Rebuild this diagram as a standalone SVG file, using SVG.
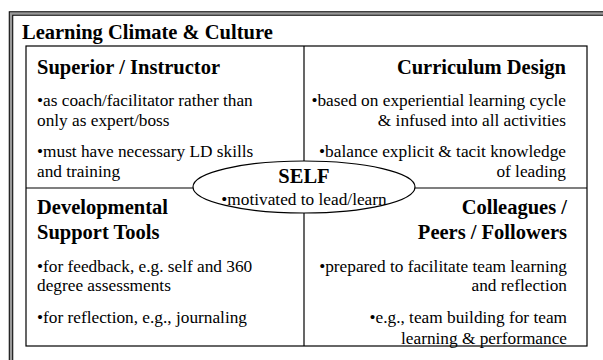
<svg xmlns="http://www.w3.org/2000/svg" width="603" height="360" viewBox="0 0 603 360" font-family="'Liberation Serif', 'Times New Roman', serif">
<style>
.h{font-size:20.5px;font-weight:bold}
.b{font-size:17.3px}
.r{text-anchor:end}
.c{text-anchor:middle}
.box{fill:none;stroke:#000;stroke-width:1.2}
</style>
<rect width="603" height="360" fill="#fff"/>
<g id="frame">
<rect x="11" y="13.5" width="700" height="500" fill="none" stroke="#000" stroke-width="4.5"/>
<rect x="11" y="13.5" width="700" height="500" fill="none" stroke="#9a9a9a" stroke-width="2.5"/>
<text class="h" x="22" y="39" font-family="'Liberation Serif', serif">Learning Climate &amp; Culture</text>
</g>
<g id="connectors">
<rect class="box" x="26" y="46" width="561" height="300"/>
<line class="box" x1="304" y1="46" x2="304" y2="346"/>
<line class="box" x1="26" y1="188" x2="587" y2="188"/>
</g>
<g id="superior" font-family="'Liberation Serif', serif">
<text class="h" x="37" y="74">Superior / Instructor</text>
<text class="b" x="37" y="106">•as coach/facilitator rather than</text>
<text class="b" x="37" y="126">only as expert/boss</text>
<text class="b" x="37" y="157">•must have necessary LD skills</text>
<text class="b" x="37" y="177">and training</text>
</g>
<g id="curriculum" font-family="'Liberation Serif', serif">
<text class="h r" x="566" y="74">Curriculum Design</text>
<text class="b r" x="566" y="106">•based on experiential learning cycle</text>
<text class="b r" x="566" y="126">&amp; infused into all activities</text>
<text class="b r" x="566" y="157">•balance explicit &amp; tacit knowledge</text>
<text class="b r" x="566" y="177">of leading</text>
</g>
<g id="tools" font-family="'Liberation Serif', serif">
<text class="h" x="37" y="214">Developmental</text>
<text class="h" x="37" y="239">Support Tools</text>
<text class="b" x="37" y="272">•for feedback, e.g. self and 360</text>
<text class="b" x="37" y="291">degree assessments</text>
<text class="b" x="37" y="323">•for reflection, e.g., journaling</text>
</g>
<g id="colleagues" font-family="'Liberation Serif', serif">
<text class="h r" x="567" y="214">Colleagues /</text>
<text class="h r" x="567" y="239">Peers / Followers</text>
<text class="b r" x="567" y="272">•prepared to facilitate team learning</text>
<text class="b r" x="567" y="291">and reflection</text>
<text class="b r" x="567" y="323">•e.g., team building for team</text>
<text class="b r" x="567" y="344">learning &amp; performance</text>
</g>
<g id="self" font-family="'Liberation Serif', serif">
<ellipse cx="304" cy="187" rx="111" ry="26" fill="#fff" stroke="#000" stroke-width="1.2"/>
<text class="h c" x="304" y="183">SELF</text>
<text class="b c" x="304" y="205">•motivated to lead/learn</text>
</g>
</svg>
